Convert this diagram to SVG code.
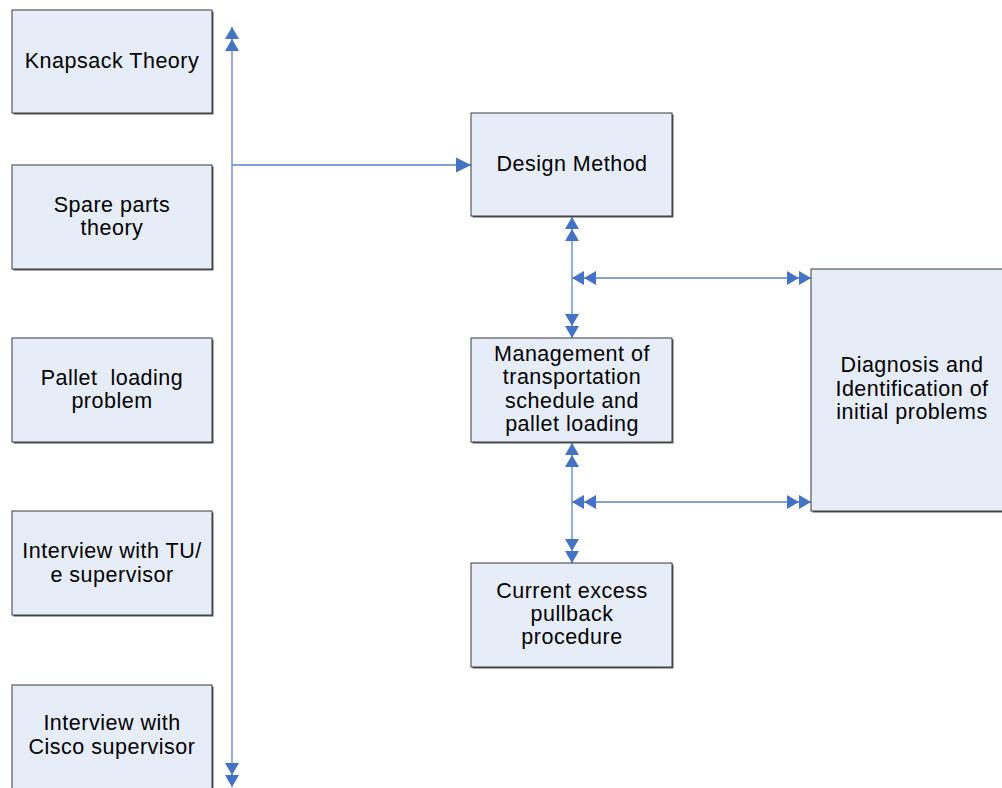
<svg xmlns="http://www.w3.org/2000/svg" width="1002" height="788" viewBox="0 0 1002 788">
<style>
.box{fill:#E7EDF8;stroke:#3a3a3a;stroke-width:1}
.sh{fill:#555}
.t{font-family:"Liberation Sans",Arial,sans-serif;font-size:21.5px;fill:#000;text-anchor:middle;letter-spacing:0.5px}
.c{stroke:#5B85C6;stroke-width:1.3;fill:none}
</style>
<defs>
<marker id="dbl" markerUnits="userSpaceOnUse" markerWidth="28" markerHeight="18" viewBox="-27 -9 28 18" refX="0" refY="0" orient="auto-start-reverse">
<path d="M0,0 L-12,-7 L-12,7 Z M-12,0 L-24,-7 L-24,7 Z" fill="#4472C4"/>
</marker>
<marker id="sgl" markerUnits="userSpaceOnUse" markerWidth="18" markerHeight="18" viewBox="-17 -9 18 18" refX="0" refY="0" orient="auto">
<path d="M0,0 L-15,-7.5 L-15,7.5 Z" fill="#4472C4"/>
</marker>
</defs>
<rect width="1002" height="788" fill="#fff"/>
<g id="connectors">
<line class="c" x1="232" y1="27" x2="232" y2="787" marker-start="url(#dbl)" marker-end="url(#dbl)"/>
<line class="c" x1="232" y1="165" x2="471" y2="165" marker-end="url(#sgl)"/>
<line class="c" x1="572" y1="217" x2="572" y2="338" marker-start="url(#dbl)" marker-end="url(#dbl)"/>
<line class="c" x1="572" y1="278" x2="811" y2="278" marker-start="url(#dbl)" marker-end="url(#dbl)"/>
<line class="c" x1="572" y1="443" x2="572" y2="563" marker-start="url(#dbl)" marker-end="url(#dbl)"/>
<line class="c" x1="572" y1="502" x2="811" y2="502" marker-start="url(#dbl)" marker-end="url(#dbl)"/>
</g>
<g id="knapsack">
<rect class="sh" x="13.5" y="11.5" width="200" height="103"/>
<rect class="box" x="12" y="10" width="200" height="103"/>
<text class="t" x="112" y="68">Knapsack Theory</text>
</g>
<g id="spare">
<rect class="sh" x="13.5" y="166.5" width="200" height="104"/>
<rect class="box" x="12" y="165" width="200" height="104"/>
<text class="t" x="112" y="212">Spare parts</text>
<text class="t" x="112" y="235">theory</text>
</g>
<g id="pallet">
<rect class="sh" x="13.5" y="339.5" width="200" height="104"/>
<rect class="box" x="12" y="338" width="200" height="104"/>
<text class="t" x="112" y="385" xml:space="preserve">Pallet  loading</text>
<text class="t" x="112" y="408">problem</text>
</g>
<g id="tue">
<rect class="sh" x="13.5" y="512.5" width="200" height="104"/>
<rect class="box" x="12" y="511" width="200" height="104"/>
<text class="t" x="112" y="558">Interview with TU/</text>
<text class="t" x="112" y="582">e supervisor</text>
</g>
<g id="cisco">
<rect class="sh" x="13.5" y="686.5" width="200" height="104"/>
<rect class="box" x="12" y="685" width="200" height="104"/>
<text class="t" x="112" y="730">Interview with</text>
<text class="t" x="112" y="754">Cisco supervisor</text>
</g>
<g id="design">
<rect class="sh" x="472.5" y="114.5" width="201" height="103"/>
<rect class="box" x="471" y="113" width="201" height="103"/>
<text class="t" x="572" y="171">Design Method</text>
</g>
<g id="management">
<rect class="sh" x="472.5" y="339.5" width="201" height="104"/>
<rect class="box" x="471" y="338" width="201" height="104"/>
<text class="t" x="572" y="361">Management of</text>
<text class="t" x="572" y="384">transportation</text>
<text class="t" x="572" y="408">schedule and</text>
<text class="t" x="572" y="431">pallet loading</text>
</g>
<g id="current">
<rect class="sh" x="472.5" y="564.5" width="201" height="104"/>
<rect class="box" x="471" y="563" width="201" height="104"/>
<text class="t" x="572" y="598">Current excess</text>
<text class="t" x="572" y="621">pullback</text>
<text class="t" x="572" y="644">procedure</text>
</g>
<g id="diagnosis">
<rect class="sh" x="812.5" y="270.5" width="200" height="242"/>
<rect class="box" x="811" y="269" width="200" height="242"/>
<text class="t" x="912" y="372">Diagnosis and</text>
<text class="t" x="912" y="396">Identification of</text>
<text class="t" x="912" y="419">initial problems</text>
</g>
</svg>
